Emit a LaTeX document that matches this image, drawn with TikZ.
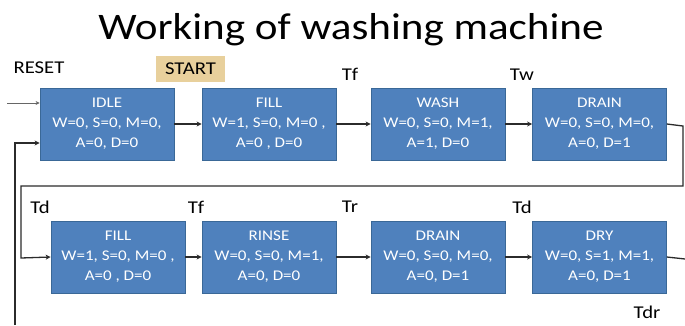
\documentclass[tikz,border=0pt]{standalone}
\usepackage{fontspec}
\setmainfont[FakeStretch=1.15]{Carlito}
\usetikzlibrary{arrows.meta}
\definecolor{boxfill}{HTML}{4F81BD}
\definecolor{boxdraw}{HTML}{3A6897}
\definecolor{startbg}{HTML}{E8D09C}
\definecolor{linec}{HTML}{2B2B2B}
\tikzset{
  statebox/.style={draw=boxdraw, line width=0.8pt, fill=boxfill, text=white,
    minimum width=134pt, minimum height=72pt, inner sep=0pt, align=center,
    font=\fontsize{14.8}{20}\selectfont},
  lbl/.style={text=black, font=\fontsize{18}{20}\selectfont, inner sep=0pt},
  conn/.style={draw=linec, line width=1.3pt, -{Stealth[length=5pt,width=5pt]}},
  plain/.style={draw=linec, line width=1.3pt},
}
\begin{document}
\begin{tikzpicture}[x=1pt, y=-1pt]
\useasboundingbox (0,0) rectangle (685,325);
% title
\node[anchor=base, inner sep=0pt, font=\fontsize{37.5}{40}\selectfont] (title) at (351,39) {Working of washing machine};
% labels
\node[lbl] (reset) at (39,68) {RESET};
\node[lbl, fill=startbg, minimum width=69pt, minimum height=26pt] (start) at (190.5,69) {START};
\node[lbl] (tf1) at (350,74) {Tf};
\node[lbl] (tw) at (522,75) {Tw};
\node[lbl] (td1) at (40,207) {Td};
\node[lbl] (tf2) at (196,207) {Tf};
\node[lbl] (tr) at (350,207) {Tr};
\node[lbl] (td2) at (522,207) {Td};
\node[lbl] (tdr) at (647,312) {Tdr};
% top row
\node[statebox] (idle) at (107,124) {IDLE\\W=0, S=0, M=0,\\A=0, D=0};
\node[statebox] (fill1) at (269,124) {FILL\\W=1, S=0, M=0 ,\\A=0 , D=0};
\node[statebox] (wash) at (438,124) {WASH\\W=0, S=0, M=1,\\A=1, D=0};
\node[statebox] (drain1) at (599.5,124) {DRAIN\\W=0, S=0, M=0,\\A=0, D=1};
% bottom row
\node[statebox] (fill2) at (118,257) {FILL\\W=1, S=0, M=0 ,\\A=0 , D=0};
\node[statebox] (rinse) at (269,257) {RINSE\\W=0, S=0, M=1,\\A=0, D=0};
\node[statebox] (drain2) at (438,257) {DRAIN\\W=0, S=0, M=0,\\A=0, D=1};
\node[statebox] (dry) at (599.5,257) {DRY\\W=0, S=1, M=1,\\A=0, D=1};
% coordinates
\coordinate (resetin) at (7,103);
\coordinate (r1) at (683,126);
\coordinate (r2) at (683,186);
\coordinate (r3) at (21,186);
\coordinate (r4) at (21,258);
\coordinate (dryout) at (685,259);
\coordinate (b1) at (15,325);
\coordinate (b2) at (15,143);
% connectors
\draw[draw=gray!80!black, line width=1pt, -{Stealth[length=4pt,width=4pt]}] (resetin) -- (resetin -| idle.west);
\draw[conn] (idle) -- (fill1);
\draw[conn] (fill1) -- (wash);
\draw[conn] (wash) -- (drain1);
\draw[conn] (drain1.east) -- (r1) -- (r2) -- (r3) -- (r4) -- (fill2.west);
\draw[conn] (fill2) -- (rinse);
\draw[conn] (rinse) -- (drain2);
\draw[conn] (drain2) -- (dry);
\draw[plain] (dry.east) -- (dryout);
\draw[conn] (b1) -- (b2) -- (b2 -| idle.west);
\end{tikzpicture}
\end{document}
